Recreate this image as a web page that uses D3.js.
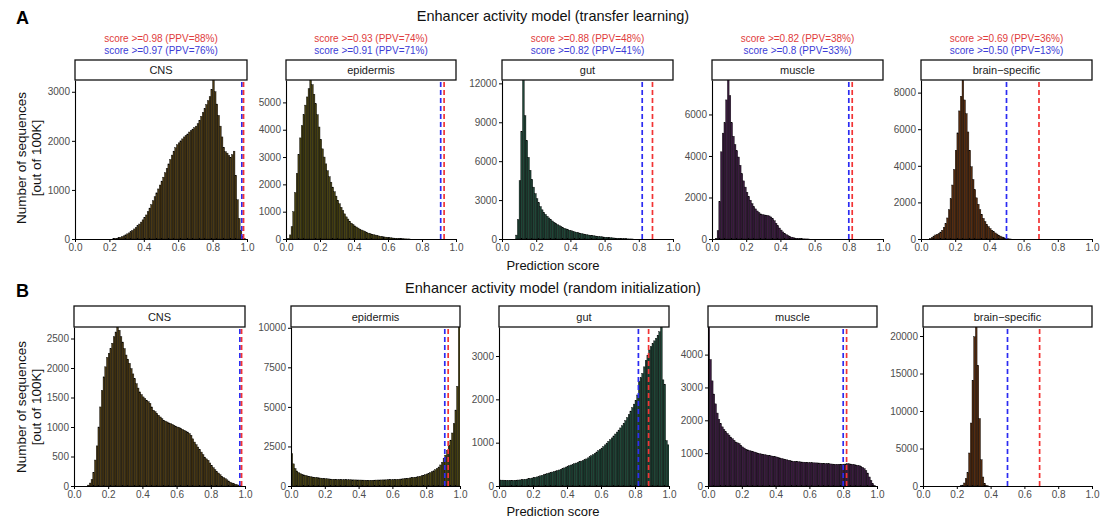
<!DOCTYPE html>
<html>
<head>
<meta charset="utf-8">
<script src="https://cdn.jsdelivr.net/npm/d3@7"></script>
<style>
body { margin: 0; background: #fff; }
svg { font-family: "Liberation Sans", Arial, Helvetica, sans-serif; }
</style>
</head>
<body>
<svg id="chart" width="1106" height="521"></svg>
<script>
var tissues = ["CNS", "epidermis", "gut", "muscle", "brain\u2212specific"];
var tissueFill = ["#4a3914", "#474112", "#1f4637", "#3b1b40", "#562c0f"];
var redCut = [0.98, 0.93, 0.88, 0.82, 0.69];
var blueCut = [0.97, 0.91, 0.82, 0.8, 0.50];
var redLabels = ["score >=0.98 (PPV=88%)", "score >=0.93 (PPV=74%)", "score >=0.88 (PPV=48%)", "score >=0.82 (PPV=38%)", "score >=0.69 (PPV=36%)"];
var blueLabels = ["score >=0.97 (PPV=76%)", "score >=0.91 (PPV=71%)", "score >=0.82 (PPV=41%)", "score >=0.8 (PPV=33%)", "score >=0.50 (PPV=13%)"];
var xTicks = [0, 0.2, 0.4, 0.6, 0.8, 1.0];

// counts per bin of width 0.01 (bin i = [i/100, (i+1)/100))
var transferCNS = [0,0,0,0,0,0,0,0,0,0, 0,0,0,0,0,0,0,0,0,0,
  0,0,5,10,15,25,35,50,65,85, 105,125,150,175,205,235,270,305,345,390,
  440,490,560,630,700,780,860,940,1020,1100, 1180,1260,1350,1440,1530,1620,1710,1790,1860,1920,
  1960,2000,2040,2080,2110,2140,2180,2210,2240,2270, 2300,2350,2420,2500,2580,2660,2740,2820,2900,3050,
  3240,3000,2750,2520,2300,2080,1870,1780,1750,1700, 1660,1720,1790,1300,800,420,180,60,15,0];
var transferEpidermis = [0,20,150,450,1000,1700,2400,3100,3700,4150,
  4550,4900,5200,5500,5820,5650,5300,4950,4550,4100, 3650,3300,3000,2750,2500,2280,2080,1900,1730,1570,
  1420,1290,1160,1040,920,810,730,650,580,530, 480,440,400,360,330,300,270,240,215,195,
  175,160,145,130,115,100,90,80,70,60, 52,45,38,32,26,21,17,13,10,7, 5,3,2];
var transferGut = [0,0,0,0,0,0,0,0,300,1500,
  4500,8300,12260,9500,7600,6300,5300,4600,4000,3500, 3100,2800,2500,2250,2050,1900,1750,1620,1500,1390,
  1290,1200,1110,1030,960,890,830,775,725,680, 635,595,555,520,485,450,420,390,360,335,
  310,290,270,250,232,215,198,182,167,152, 138,125,112,100,88,77,66,56,46,37, 29,22,16,11,7,4,2];
var transferMuscle = [0,0,30,400,1800,4200,5100,5600,6700,7660,
  6900,5600,4950,4550,4250,3950,3550,3150,2800,2500, 2250,2050,1870,1700,1560,1450,1350,1270,1210,1180,
  1160,1150,1140,1110,1060,980,880,760,640,530, 430,340,270,210,160,120,90,65,48,35,
  25,18,12,8,5,3,2];
var transferBrain = [0,0,0,0,0,20,80,160,220,260,
  300,380,480,640,850,1150,1600,2200,2950,3800, 4850,5800,7000,7800,8690,7600,6850,5850,4850,3950,
  3250,2700,2250,1900,1600,1350,1130,950,800,680, 570,480,400,330,270,210,160,110,70,40, 15,5,2];

var randomCNS = [0,0,0,0,0,0,0,0,15,50,
  110,230,440,680,1000,1340,1620,1850,2020,2180, 2250,2330,2420,2530,2610,2695,2640,2530,2440,2330,
  2220,2150,2080,1990,1900,1820,1735,1660,1595,1550, 1510,1480,1455,1430,1400,1340,1285,1260,1230,1200,
  1170,1140,1115,1100,1085,1070,1060,1045,1030,1015, 1000,990,975,960,945,930,915,890,860,800,
  745,700,660,620,575,530,490,460,435,390, 350,310,275,245,220,190,165,145,125,105,
  85,65,50,40,30,20,10,5];
var randomEpidermis = [2050,1400,1100,950,850,780,740,705,675,640,
  610,590,570,555,540,530,515,500,485,475, 465,455,445,435,425,420,415,410,405,400,
  400,398,396,394,392,390,388,385,382,380, 378,375,372,370,365,362,360,362,365,370,
  375,378,380,382,385,388,390,393,396,400, 405,410,418,426,435,445,455,467,480,495,
  510,525,540,555,570,590,615,645,680,720, 760,805,850,900,960,1030,1110,1200,1330,1500,
  1720,1950,2250,2570,2900,3350,3950,4800,6300,10050];
var randomGut = [140,135,135,132,130,130,128,128,130,132,
  135,138,140,145,150,155,160,168,175,183, 190,200,210,222,235,248,262,276,290,300,
  310,322,334,346,358,370,385,400,418,438, 458,470,485,500,515,530,545,560,575,590,
  605,625,650,675,700,725,755,785,815,845, 875,910,950,990,1030,1070,1110,1155,1200,1245,
  1290,1340,1390,1450,1510,1580,1650,1730,1810,1890, 1980,2100,2420,2500,2600,2750,2900,3020,3140,3220,
  3290,3350,3410,3480,3560,3670,2450,2350,1050,950];
var randomMuscle = [4840,3850,3200,2800,2500,2220,2030,1900,1800,1720,
  1650,1600,1550,1490,1440,1390,1340,1315,1290,1240, 1190,1155,1120,1100,1080,1065,1050,1035,1015,1000,
  985,975,965,955,945,935,925,915,905,895, 885,870,855,840,825,810,798,786,774,762,
  750,746,742,738,734,730,726,722,718,714, 710,708,706,704,702,700,696,692,688,684,
  680,676,672,668,664,660,660,660,660,662, 665,670,680,675,668,660,650,640,630,615,
  600,570,530,470,395,275,170,70,15];
var randomBrain = [0,0,0,0,0,0,0,0,0,0, 0,0,0,0,0,0,0,0,0,0,
  0,0,30,120,400,1000,1800,4400,8400,14100, 19900,21200,16100,9000,3500,1200,350,80,15];

var transferTicks = [[0, 1000, 2000, 3000], [0, 1000, 2000, 3000, 4000, 5000], [0, 3000, 6000, 9000, 12000], [0, 2000, 4000, 6000], [0, 2000, 4000, 6000, 8000]];
var randomTicks = [[0, 500, 1000, 1500, 2000, 2500], [0, 2500, 5000, 7500, 10000], [0, 1000, 2000, 3000], [0, 1000, 2000, 3000, 4000], [0, 5000, 10000, 15000, 20000]];

var svg = d3.select("#chart");

var rows = [
  {
    letter: "A", letterY: 24,
    title: "Enhancer activity model (transfer learning)", titleY: 21,
    hists: [transferCNS, transferEpidermis, transferGut, transferMuscle, transferBrain],
    ticks: transferTicks,
    stripTop: 60, top: 80, bottom: 239, xlabY: 270, ylabY: 158,
    xs: [[75, 247], [286, 456], [502, 673], [712, 883], [921, 1092]],
    annotate: true
  },
  {
    letter: "B", letterY: 297,
    title: "Enhancer activity model (random initialization)", titleY: 293,
    hists: [randomCNS, randomEpidermis, randomGut, randomMuscle, randomBrain],
    ticks: randomTicks,
    stripTop: 306, top: 327, bottom: 486, xlabY: 516, ylabY: 407,
    xs: [[74, 245], [291, 460], [499, 669], [708, 877], [923, 1092]],
    annotate: false
  }
];

rows.forEach(function(row, r) {
  // panel letter
  svg.append("text")
    .attr("x", 16).attr("y", row.letterY)
    .style("font-size", "18px").style("font-weight", "bold")
    .text(row.letter);

  // row title
  svg.append("text")
    .attr("x", 553).attr("y", row.titleY)
    .attr("text-anchor", "middle")
    .style("font-size", "14.5px").style("fill", "#111")
    .text(row.title);

  // x axis title
  svg.append("text")
    .attr("x", 553).attr("y", row.xlabY)
    .attr("text-anchor", "middle")
    .style("font-size", "13px").style("fill", "#111")
    .text("Prediction score");

  // y axis title (two lines)
  var yl = svg.append("text")
    .attr("transform", "translate(26," + row.ylabY + ") rotate(-90)")
    .attr("text-anchor", "middle")
    .style("font-size", "13.5px").style("fill", "#111");
  yl.append("tspan").attr("x", 0).attr("dy", 0).text("Number of sequences");
  yl.append("tspan").attr("x", 0).attr("dy", 15).text("[out of 100K]");

  tissues.forEach(function(t, k) {
    var counts = row.hists[k];
    var x = d3.scaleLinear().domain([0, 1]).range(row.xs[k]);
    var y = d3.scaleLinear().domain([0, d3.max(counts)]).range([row.bottom, row.top]);
    var g = svg.append("g");

    var clipId = "clip" + r + "_" + k;
    svg.append("clipPath").attr("id", clipId)
      .append("rect")
      .attr("x", row.xs[k][0]).attr("y", row.top)
      .attr("width", row.xs[k][1] - row.xs[k][0])
      .attr("height", row.bottom - row.top);

    var bars = counts.map(function(v, i) { return { lo: i / 100, hi: (i + 1) / 100, n: v }; })
      .filter(function(d) { return d.n > 0; });

    g.append("g").attr("clip-path", "url(#" + clipId + ")")
      .selectAll("rect")
      .data(bars)
      .enter().append("rect")
      .attr("x", function(d) { return x(d.lo); })
      .attr("width", function(d) { return x(d.hi) - x(d.lo); })
      .attr("y", function(d) { return y(d.n); })
      .attr("height", function(d) { return row.bottom - y(d.n); })
      .style("fill", tissueFill[k])
      .style("stroke", "#000")
      .style("stroke-width", 0.4);

    // cutoff lines
    [[blueCut[k], "#2b2bf2"], [redCut[k], "#f23434"]].forEach(function(c) {
      g.append("line")
        .attr("x1", x(c[0])).attr("x2", x(c[0]))
        .attr("y1", row.bottom).attr("y2", row.top)
        .style("stroke", c[1])
        .style("stroke-width", 1.7)
        .style("stroke-dasharray", "5,3");
    });

    // axes
    var ya = g.append("g")
      .attr("transform", "translate(" + row.xs[k][0] + ",0)")
      .call(d3.axisLeft(y).tickValues(row.ticks[k]).tickSize(3).tickSizeOuter(0).tickPadding(2).tickFormat(d3.format("d")));
    var xa = g.append("g")
      .attr("transform", "translate(0," + row.bottom + ")")
      .call(d3.axisBottom(x).tickValues(xTicks).tickSize(3).tickSizeOuter(0).tickPadding(2).tickFormat(d3.format(".1f")));
    [ya, xa].forEach(function(a) {
      a.select(".domain").style("stroke", "#000").style("stroke-width", 1.1);
      a.selectAll(".tick line").style("stroke", "#000").style("stroke-width", 1);
      a.selectAll(".tick text").style("fill", "#4d4d4d").style("font-size", "10px")
        .style("font-family", "'Liberation Sans', Arial, sans-serif");
    });

    // strip
    g.append("rect")
      .attr("x", row.xs[k][0]).attr("y", row.stripTop)
      .attr("width", row.xs[k][1] - row.xs[k][0])
      .attr("height", row.top - row.stripTop)
      .style("fill", "#fff").style("stroke", "#111").style("stroke-width", 1.3);
    g.append("text")
      .attr("x", (row.xs[k][0] + row.xs[k][1]) / 2)
      .attr("y", (row.stripTop + row.top) / 2 + 4)
      .attr("text-anchor", "middle")
      .style("font-size", "11px").style("fill", "#1a1a1a")
      .text(t);

    if (row.annotate) {
      var cx = (row.xs[k][0] + row.xs[k][1]) / 2;
      g.append("text").attr("x", cx).attr("y", 42).attr("text-anchor", "middle")
        .style("font-size", "10px").style("fill", "#e03c3c").text(redLabels[k]);
      g.append("text").attr("x", cx).attr("y", 54).attr("text-anchor", "middle")
        .style("font-size", "10px").style("fill", "#3c3cd6").text(blueLabels[k]);
    }
  });
});
</script>
</body>
</html>
